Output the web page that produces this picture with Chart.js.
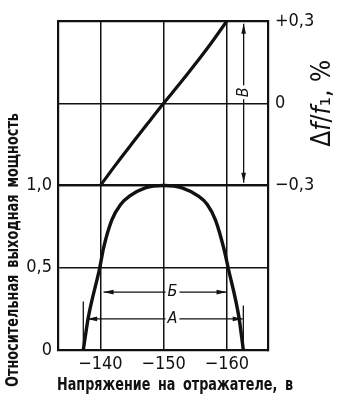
<!DOCTYPE html>
<html>
<head>
<meta charset="UTF-8" />
<script src="https://cdn.jsdelivr.net/npm/chart.js"></script>
<style>
  html, body { margin: 0; padding: 0; background: #fff; }
  #wrap { width: 345px; height: 400px; }
</style>
</head>
<body>
<div id="wrap"><canvas id="chart" width="345" height="400"></canvas></div>
<script>
// Относительная выходная мощность (нижняя кривая)
const powerVolts = [-137.3, -138.1, -139.9, -140.5, -141.8, -143.2, -144.6, -147.1, -150, -152.9, -155.5, -156.9, -158.2, -159.5, -160.2, -161.9, -162.6];
const powerValues = [0, 0.2, 0.5, 0.62, 0.79, 0.885, 0.935, 0.986, 1.0, 0.986, 0.935, 0.885, 0.79, 0.62, 0.5, 0.2, 0];

// Уход частоты, % (верхняя кривая)
const freqVolts = [-140, -142.5, -145, -147.5, -150, -152.5, -155, -157.5, -160];
const freqValues = [-0.3, -0.222, -0.147, -0.073, 0, 0.07, 0.143, 0.219, 0.3];

const xTicks = [-140, -150, -160];
const powerTicks = [0, 0.5, 1.0];
const freqTicks = [-0.3, 0, 0.3];

// метки диапазонов А, Б, В
const markerVolts = [-137.3, -162.6];
const markerTops = [0.295, 0.27];
const spanB = { from: -140.5, to: -159.95, at: 0.352, label: -151.4 };
const spanA = { from: -137.9, to: -162.5, at: 0.189, label: -151.4 };
const spanV = { from: 0.29, to: -0.29, at: -162.65, label: 0.04 };

const INK = '#111';
const FONT = '"DejaVu Sans Condensed", "DejaVu Sans", sans-serif';
const tickFont = { family: FONT, size: 18 };

Chart.defaults.font.family = FONT;

const toPoints = (xs, ys) => xs.map((x, i) => ({ x: x, y: ys[i] }));
const fixTicks = (list) => (s) => { s.ticks = list.map(v => ({ value: v })); };
const comma = (v) => v.toFixed(1).replace('.', ',');

function arrowHead(ctx, x, y, dx, dy) {
  const len = 10, half = 2.3;
  const nx = -dy, ny = dx;
  ctx.beginPath();
  ctx.moveTo(x, y);
  ctx.lineTo(x - dx * len + nx * half, y - dy * len + ny * half);
  ctx.lineTo(x - dx * len - nx * half, y - dy * len - ny * half);
  ctx.closePath();
  ctx.fill();
}

const annotations = {
  id: 'annotations',
  afterDatasetsDraw(chart) {
    const ctx = chart.ctx;
    const xs = chart.scales.x, ys = chart.scales.y, fs = chart.scales.y2;
    ctx.save();
    ctx.strokeStyle = INK;
    ctx.fillStyle = INK;
    ctx.lineWidth = 1.3;

    // вертикальные отметки
    markerVolts.forEach((v, i) => {
      const px = xs.getPixelForValue(v);
      ctx.beginPath();
      ctx.moveTo(px, ys.getPixelForValue(0));
      ctx.lineTo(px, ys.getPixelForValue(markerTops[i]));
      ctx.stroke();
    });

    ctx.font = 'italic 16px ' + FONT;
    ctx.textAlign = 'center';
    ctx.textBaseline = 'middle';

    [[spanB, 'Б'], [spanA, 'А']].forEach(([s, txt]) => {
      const x1 = xs.getPixelForValue(s.from), x2 = xs.getPixelForValue(s.to);
      const py = ys.getPixelForValue(s.at);
      ctx.beginPath();
      ctx.moveTo(x1, py);
      ctx.lineTo(x2, py);
      ctx.stroke();
      arrowHead(ctx, x1, py, -1, 0);
      arrowHead(ctx, x2, py, 1, 0);
      const lx = xs.getPixelForValue(s.label);
      const w = ctx.measureText(txt).width + 4;
      ctx.fillStyle = '#fff';
      ctx.fillRect(lx - w / 2, py - 3, w, 6);
      ctx.fillStyle = INK;
      ctx.fillText(txt, lx, py);
    });

    // стрелка В
    const vx = xs.getPixelForValue(spanV.at);
    const y1 = fs.getPixelForValue(spanV.from), y2 = fs.getPixelForValue(spanV.to);
    ctx.beginPath();
    ctx.moveTo(vx, y1);
    ctx.lineTo(vx, y2);
    ctx.stroke();
    arrowHead(ctx, vx, y1, 0, -1);
    arrowHead(ctx, vx, y2, 0, 1);
    const ly = fs.getPixelForValue(spanV.label);
    ctx.translate(vx, ly);
    ctx.rotate(-Math.PI / 2);
    const wv = ctx.measureText('В').width + 4;
    ctx.fillStyle = '#fff';
    ctx.fillRect(-wv / 2, -3, wv, 6);
    ctx.fillStyle = INK;
    ctx.fillText('В', 0, 0);
    ctx.restore();
  }
};

const titles = {
  id: 'titles',
  afterDraw(chart) {
    const ctx = chart.ctx;
    const area = chart.chartArea;
    ctx.save();
    ctx.fillStyle = INK;
    ctx.textBaseline = 'middle';
    ctx.textAlign = 'center';

    // узкий полужирный шрифт, как в оригинале
    ctx.font = 'bold 18px ' + FONT;
    ctx.wordSpacing = '4px';
    ctx.fillText('Напряжение на отражателе, в', (area.left + area.right) / 2 + 12, area.bottom + 35, 236);

    ctx.save();
    ctx.font = 'bold 17px ' + FONT;
    ctx.wordSpacing = '3px';
    ctx.translate(14, area.bottom - 100);
    ctx.rotate(-Math.PI / 2);
    ctx.fillText('Относительная выходная мощность', 0, 0, 274);
    ctx.restore();
    ctx.wordSpacing = '0px';

    // Δf/f₁, %
    const segs = [
      ['Δ', '26px '], ['f', 'italic 26px '], ['/', '26px '], ['f', 'italic 26px '],
      ['₁', '26px '], [', %', '26px ']
    ];
    let total = 0;
    segs.forEach(s => { ctx.font = s[1] + FONT; total += ctx.measureText(s[0]).width; });
    ctx.translate(323, (area.top + chart.scales.y2.getPixelForValue(-0.3)) / 2);
    ctx.rotate(-Math.PI / 2);
    ctx.textAlign = 'left';
    let cx = -total / 2;
    segs.forEach(s => {
      ctx.font = s[1] + FONT;
      ctx.fillText(s[0], cx, 0);
      cx += ctx.measureText(s[0]).width;
    });
    ctx.restore();
  }
};

const gridWidth = (c) => (c.tick && (c.tick.value === 0.3 || c.tick.value === -0.3 || c.tick.value === 1)) ? 2.2 : 1.5;

new Chart(document.getElementById('chart'), {
  type: 'line',
  data: {
    datasets: [
      {
        data: toPoints(powerVolts, powerValues),
        xAxisID: 'x', yAxisID: 'y',
        borderColor: INK, borderWidth: 3.4,
        pointRadius: 0, cubicInterpolationMode: 'monotone', clip: false
      },
      {
        data: toPoints(freqVolts, freqValues),
        xAxisID: 'x', yAxisID: 'y2',
        borderColor: INK, borderWidth: 3.2,
        pointRadius: 0, cubicInterpolationMode: 'monotone', clip: false
      }
    ]
  },
  options: {
    responsive: false,
    animation: false,
    events: [],
    layout: { padding: { top: 21, left: 0, right: 0, bottom: 0 } },
    plugins: { legend: { display: false }, tooltip: { enabled: false } },
    scales: {
      x: {
        type: 'linear', reverse: true, min: -166.5, max: -133.3,
        afterBuildTicks: fixTicks(xTicks),
        afterFit: (s) => { s.height = 50; },
        grid: { color: INK, lineWidth: 1.5, drawTicks: false },
        border: { color: INK, width: 2.2 },
        ticks: { color: INK, font: tickFont, padding: 4, maxRotation: 0, autoSkip: false,
                 callback: (v) => '−' + Math.abs(v) }
      },
      y: {
        type: 'linear', position: 'left', min: 0, max: 2,
        afterBuildTicks: fixTicks(powerTicks),
        afterFit: (s) => { s.width = 58; },
        grid: { color: INK, lineWidth: gridWidth, drawTicks: false },
        border: { color: INK, width: 2.2 },
        ticks: { color: INK, font: tickFont, padding: 6,
                 callback: (v) => v === 0 ? '0' : comma(v) }
      },
      y2: {
        type: 'linear', position: 'right', min: -0.9, max: 0.3,
        afterBuildTicks: fixTicks(freqTicks),
        afterFit: (s) => { s.width = 77; },
        grid: { color: INK, lineWidth: gridWidth, drawTicks: false },
        border: { color: INK, width: 2.2 },
        ticks: { color: INK, font: tickFont, padding: 7,
                 callback: (v) => v === 0 ? '0' : (v > 0 ? '+' : '−') + comma(Math.abs(v)) }
      }
    }
  },
  plugins: [annotations, titles]
});
</script>
</body>
</html>
